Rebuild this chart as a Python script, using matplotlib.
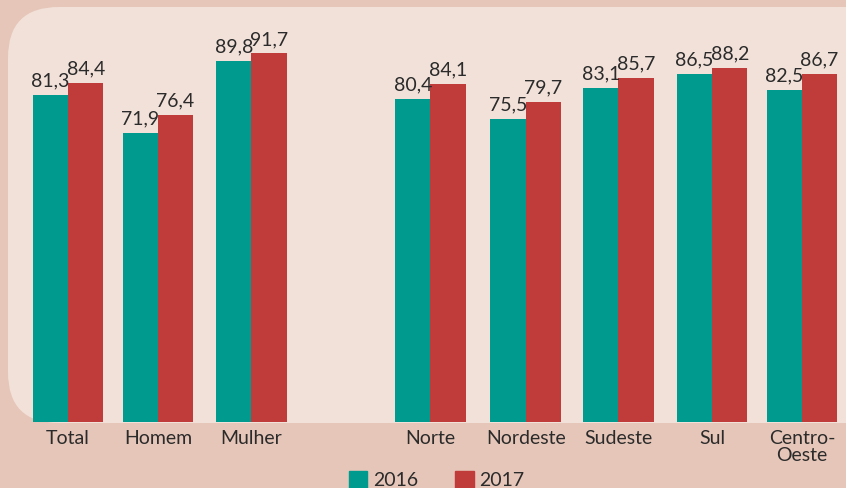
import matplotlib.pyplot as plt
from matplotlib.patches import FancyBboxPatch, Patch
import numpy as np

categories = ['Total', 'Homem', 'Mulher', 'Norte', 'Nordeste', 'Sudeste', 'Sul', 'Centro-\nOeste']
positions = [0, 0.98, 2, 3.95, 4.99, 6.0, 7.02, 8]
values_2016 = [81.3, 71.9, 89.8, 80.4, 75.5, 83.1, 86.5, 82.5]
values_2017 = [84.4, 76.4, 91.7, 84.1, 79.7, 85.7, 88.2, 86.7]
years = ['2016', '2017']

teal = '#009a8e'
red = '#c03c3a'
outer_bg = '#e6c6b8'
inner_bg = '#f2e1d9'
text_col = '#2b2b2b'

plt.rcParams['font.family'] = ['Lato', 'DejaVu Sans']

fig = plt.figure(figsize=(8.46, 4.88), dpi=100)
fig.patch.set_facecolor(outer_bg)

# light rounded panel behind the bars
panel = FancyBboxPatch((8 / 846, (488 - 423) / 488), 900 / 846, (423 - 7) / 488,
                       boxstyle='round,pad=0,rounding_size=0.06',
                       transform=fig.transFigure, facecolor=inner_bg,
                       edgecolor='none', zorder=0, mutation_aspect=846 / 488)
fig.patches.append(panel)

ax = fig.add_axes([0, (488 - 422) / 488, 1, 422 / 488])
ax.set_facecolor('none')
ax.set_zorder(2)

x = np.array(positions, dtype=float)
w = 0.385
b1 = ax.bar(x - w / 2, values_2016, w, color=teal, label=years[0])
b2 = ax.bar(x + w / 2, values_2017, w, color=red, label=years[1])

fmt = lambda v: f'{v:.1f}'.replace('.', ',')
ax.bar_label(b1, labels=[fmt(v) for v in values_2016], padding=4, fontsize=14, color=text_col)
ax.bar_label(b2, labels=[fmt(v) for v in values_2017], padding=4, fontsize=14, color=text_col)

ax.set_xlim(-0.741, 8.48)
ax.set_ylim(0, 105)
ax.set_xticks(x)
ax.set_xticklabels(categories, fontsize=14, color=text_col, linespacing=0.95)
ax.tick_params(axis='x', length=0, pad=6)
ax.set_yticks([])
for s in ax.spines.values():
    s.set_visible(False)

handles = [Patch(color=teal), Patch(color=red)]
fig.legend(handles, years, loc='center left', bbox_to_anchor=(339 / 846, 1 - 480 / 488),
           ncol=2, frameon=False, fontsize=14, handlelength=0.95, handleheight=0.95,
           handletextpad=0.3, columnspacing=1.9, labelcolor=text_col, borderpad=0)

plt.savefig('out.png', dpi=100, facecolor=outer_bg)
